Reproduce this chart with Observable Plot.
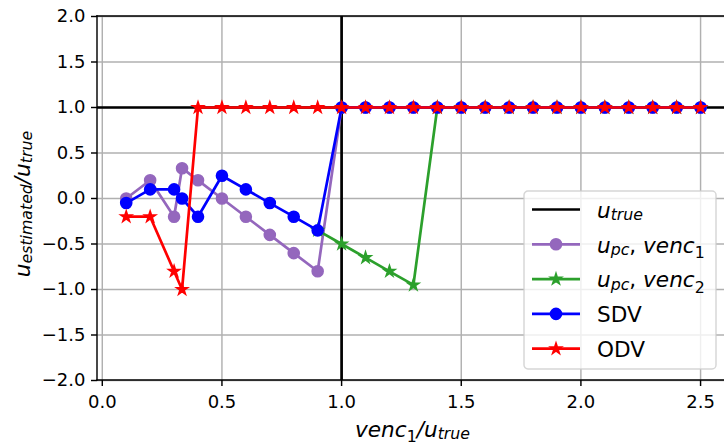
<!DOCTYPE html>
<html>
<head>
<meta charset="utf-8">
<script src="https://cdn.jsdelivr.net/npm/d3@7"></script>
<script src="https://cdn.jsdelivr.net/npm/@observablehq/plot@0.6"></script>
<style>
  html, body { margin: 0; padding: 0; background: #fff; overflow: hidden; }
  #chart { width: 724px; height: 447px; }
  svg text { font-family: "DejaVu Sans", sans-serif; }
</style>
</head>
<body>
<div id="chart"></div>
<script>
// venc1 / u_true sampled values
const venc = [0.1, 0.2, 0.3, 1 / 3, 0.4, 0.5, 0.6, 0.7, 0.8, 0.9, 1.0, 1.1, 1.2, 1.3,
              1.4, 1.5, 1.6, 1.7, 1.8, 1.9, 2.0, 2.1, 2.2, 2.3, 2.4, 2.5];

// u_estimated / u_true for each method
const upcVenc1 = [0.0, 0.2, -0.2, 0.333, 0.2, 0.0, -0.2, -0.4, -0.6, -0.8, 1, 1, 1, 1,
                  1, 1, 1, 1, 1, 1, 1, 1, 1, 1, 1, 1];
const upcVenc2 = [null, null, null, null, null, null, null, null, null, -0.35, -0.5, -0.65, -0.8, -0.95,
                  1, 1, 1, 1, 1, 1, 1, 1, 1, 1, 1, 1];
const sdv = [-0.05, 0.1, 0.1, 0.0, -0.2, 0.25, 0.1, -0.05, -0.2, -0.35, 1, 1, 1, 1,
             1, 1, 1, 1, 1, 1, 1, 1, 1, 1, 1, 1];
const odv = [-0.2, -0.2, -0.8, -1.0, 1, 1, 1, 1, 1, 1, 1, 1, 1, 1,
             1, 1, 1, 1, 1, 1, 1, 1, 1, 1, 1, 1];

// reference value u_true
const uTrue = 1;

// axis ticks
const xTicks = [0.0, 0.5, 1.0, 1.5, 2.0, 2.5];
const yTicks = [-2.0, -1.5, -1.0, -0.5, 0.0, 0.5, 1.0, 1.5, 2.0];

const series = [
  {name: "upc1", values: upcVenc1, color: "#9467bd", marker: "circle"},
  {name: "upc2", values: upcVenc2, color: "#2ca02c", marker: "star"},
  {name: "sdv",  values: sdv,      color: "#0000ff", marker: "circle"},
  {name: "odv",  values: odv,      color: "#ff0000", marker: "star"}
];

const LW = 2.7;          // line width
const CIRCLE_R = 5.4;    // circle marker radius
const STAR_R = 3.23;     // Plot dot r giving a star of outer radius ~5.4
const EDGE = 1.8;        // marker edge width
const TICK_FONT = 18;
const LABEL = 21.6;

const idx = d3.range(venc.length);

const seriesMarks = series.flatMap(s => {
  const pts = idx.filter(i => s.values[i] != null);
  return [
    Plot.line(idx, {x: i => venc[i], y: i => s.values[i], stroke: s.color, strokeWidth: LW}),
    Plot.dot(pts, {
      x: i => venc[i], y: i => s.values[i],
      symbol: s.marker, r: s.marker === "star" ? STAR_R : CIRCLE_R,
      fill: s.color, stroke: s.color, strokeWidth: EDGE
    })
  ];
});

const plot = Plot.plot({
  width: 724,
  height: 447,
  marginLeft: 97,
  marginRight: 0,
  marginTop: 16,
  marginBottom: 67,
  style: {fontFamily: "DejaVu Sans", fontSize: "18px", color: "black", background: "white", overflow: "visible"},
  x: {domain: [-0.02, 2.6]},
  y: {domain: [-2, 2]},
  marks: [
    Plot.gridX(xTicks, {stroke: "#b0b0b0", strokeOpacity: 1, strokeWidth: 1.44}),
    Plot.gridY(yTicks, {stroke: "#b0b0b0", strokeOpacity: 1, strokeWidth: 1.44}),
    Plot.ruleY([uTrue], {stroke: "black", strokeWidth: LW}),
    Plot.ruleX([uTrue], {stroke: "black", strokeWidth: LW}),
    ...seriesMarks,
    Plot.axisX(xTicks, {tickSize: 6, tickPadding: 9, tickFormat: d3.format(".1f"), label: null,
                        strokeWidth: 1.44, fontSize: TICK_FONT}),
    Plot.axisY(yTicks, {tickSize: 6, tickPadding: 6, tickFormat: d3.format(".1f"), label: null,
                        strokeWidth: 1.44, fontSize: TICK_FONT})
  ]
});

document.getElementById("chart").appendChild(plot);

// spines (left, bottom, top) and annotations
const svg = d3.select(plot);
const [x0, x1] = plot.scale("x").range;
const [yb, yt] = plot.scale("y").range;

const spines = svg.append("g").attr("stroke", "black").attr("stroke-width", 1.44).attr("stroke-linecap", "square");
spines.append("line").attr("x1", x0).attr("x2", x0).attr("y1", yb).attr("y2", yt);
spines.append("line").attr("x1", x0).attr("x2", x1).attr("y1", yb).attr("y2", yb);
spines.append("line").attr("x1", x0).attr("x2", x1).attr("y1", yt).attr("y2", yt);

// math-style text helper: parts = [[text, kind]] where kind is "i" (italic), "s" (italic subscript),
// "d" (upright subscript) or "r" (upright)
function mathText(sel, parts, size) {
  const sub = size * 0.73;
  let shifted = 0;
  parts.forEach(([t, kind]) => {
    const ts = sel.append("tspan").text(t);
    let target = 0;
    if (kind === "s" || kind === "d") {
      ts.attr("font-size", sub);
      target = kind === "d" ? size * 0.24 : size * 0.11;
    } else {
      ts.attr("font-size", size);
    }
    if (kind === "i" || kind === "s") ts.attr("font-style", "italic");
    if (target !== shifted) { ts.attr("dy", target - shifted); shifted = target; }
  });
  return sel;
}

// x axis label
mathText(
  svg.append("text").attr("x", (x0 + x1) / 2 + 2).attr("y", 437).attr("text-anchor", "middle").attr("fill", "black"),
  [["venc", "i"], ["1", "d"], ["/u", "i"], ["true", "s"]], LABEL);

// y axis label
mathText(
  svg.append("text").attr("transform", `translate(30,${(yb + yt) / 2 + 6}) rotate(-90)`).attr("text-anchor", "middle").attr("fill", "black"),
  [["u", "i"], ["estimated", "s"], ["/u", "i"], ["true", "s"]], LABEL);

// legend
const legendItems = [
  {parts: [["u", "i"], ["true", "s"]], color: "black", marker: null},
  {parts: [["u", "i"], ["pc", "s"], [", ", "r"], ["venc", "i"], ["1", "d"]], color: "#9467bd", marker: "circle"},
  {parts: [["u", "i"], ["pc", "s"], [", ", "r"], ["venc", "i"], ["2", "d"]], color: "#2ca02c", marker: "star"},
  {parts: [["SDV", "r"]], color: "#0000ff", marker: "circle"},
  {parts: [["ODV", "r"]], color: "#ff0000", marker: "star"}
];

const lg = svg.append("g").attr("transform", "translate(524,191)");
lg.append("rect")
  .attr("x", 0).attr("y", 0).attr("width", 192).attr("height", 178).attr("rx", 4)
  .attr("fill", "white").attr("fill-opacity", 0.8)
  .attr("stroke", "#cccccc").attr("stroke-opacity", 0.8).attr("stroke-width", 1.44);

legendItems.forEach((d, k) => {
  const cy = 18.5 + k * 34.8;
  const g = lg.append("g").attr("transform", `translate(0,${cy})`);
  g.append("line").attr("x1", 8).attr("x2", 56).attr("y1", 0).attr("y2", 0)
    .attr("stroke", d.color).attr("stroke-width", LW);
  if (d.marker === "circle") {
    g.append("circle").attr("cx", 32).attr("cy", 0).attr("r", CIRCLE_R)
      .attr("fill", d.color).attr("stroke", d.color).attr("stroke-width", EDGE);
  } else if (d.marker === "star") {
    g.append("path").attr("transform", "translate(32,0)")
      .attr("d", d3.symbol(d3.symbolStar, Math.PI * STAR_R * STAR_R)())
      .attr("fill", d.color).attr("stroke", d.color).attr("stroke-width", EDGE);
  }
  mathText(g.append("text").attr("x", 73).attr("y", 8.3).attr("text-anchor", "start").attr("fill", "black"), d.parts, LABEL);
});
</script>
</body>
</html>
